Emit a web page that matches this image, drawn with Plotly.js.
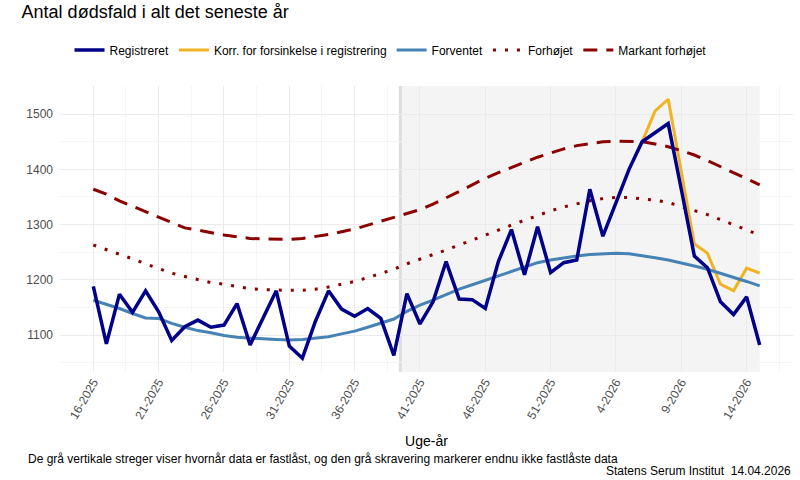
<!DOCTYPE html>
<html>
<head>
<meta charset="utf-8">
<script src="https://cdn.plot.ly/plotly-3.0.1.min.js"></script>
<style>
  body { margin: 0; background: #fff; }
  #chart { width: 800px; height: 480px; }
</style>
</head>
<body>
<div id="chart"></div>
<script>
// uge-år, én pr. observation
const weeks = [
	"16-2025", "17-2025", "18-2025", "19-2025", "20-2025", "21-2025", "22-2025", "23-2025", "24-2025", "25-2025",
	"26-2025", "27-2025", "28-2025", "29-2025", "30-2025", "31-2025", "32-2025", "33-2025", "34-2025", "35-2025",
	"36-2025", "37-2025", "38-2025", "39-2025", "40-2025", "41-2025", "42-2025", "43-2025", "44-2025", "45-2025",
	"46-2025", "47-2025", "48-2025", "49-2025", "50-2025", "51-2025", "52-2025", "1-2026", "2-2026", "3-2026",
	"4-2026", "5-2026", "6-2026", "7-2026", "8-2026", "9-2026", "10-2026", "11-2026", "12-2026", "13-2026",
	"14-2026", "15-2026"
];

const registreret = [
	1188, 1084, 1174, 1141, 1180, 1142, 1090, 1115, 1127, 1114,
	1118, 1157, 1082, 1132, 1180, 1080, 1058, 1125, 1180, 1147,
	1134, 1148, 1130, 1063, 1175, 1120, 1160, 1233, 1165, 1164,
	1148, 1233, 1291, 1209, 1296, 1213, 1231, 1236, 1364, 1279,
	1340, 1400, 1450, 1466, 1483, 1364, 1243, 1222, 1160, 1137,
	1169, 1082
];

// korrigeret for forsinkelse - kun de sidste uger
const korrigeret = [
	null, null, null, null, null, null, null, null, null, null,
	null, null, null, null, null, null, null, null, null, null,
	null, null, null, null, null, null, null, null, null, null,
	null, null, null, null, null, null, null, null, null, null,
	null, null, 1450, 1506, 1527, 1395, 1265, 1248, 1192, 1180,
	1221, 1212
];

const forventet = [
	1163, 1156, 1148, 1139, 1131, 1130, 1121, 1114, 1108, 1104,
	1099, 1096, 1094, 1093, 1092, 1091, 1092, 1094, 1097, 1102,
	1107, 1114, 1121, 1129, 1143, 1154, 1163, 1173, 1183, 1191,
	1199, 1208, 1216, 1224, 1231, 1236, 1240, 1243, 1246, 1247,
	1248, 1247, 1244, 1240, 1236, 1231, 1225, 1219, 1212, 1204,
	1197, 1189
];

const forhoejet = [
	1263, 1255, 1246, 1238, 1229, 1221, 1212, 1206, 1200, 1195,
	1192, 1188, 1184, 1182, 1181, 1181, 1181, 1183, 1187, 1192,
	1197, 1204, 1212, 1219, 1229, 1237, 1246, 1254, 1263, 1272,
	1281, 1291, 1300, 1308, 1316, 1325, 1332, 1338, 1343, 1347,
	1349, 1349, 1347, 1344, 1340, 1333, 1326, 1318, 1309, 1300,
	1291, 1281
];

const markant = [
	1364, 1355, 1343, 1333, 1323, 1313, 1303, 1294, 1290, 1285,
	1281, 1278, 1275, 1274, 1273, 1273, 1275, 1278, 1282, 1287,
	1292, 1299, 1306, 1313, 1320, 1327, 1337, 1348, 1360, 1372,
	1384, 1394, 1404, 1413, 1422, 1430, 1437, 1443, 1447, 1450,
	1451, 1451, 1450, 1446, 1441, 1434, 1426, 1416, 1405, 1395,
	1384, 1372
];

const yTicks = [1100, 1200, 1300, 1400, 1500];
const firstOpenWeek = "40-2025";   // data før denne uge er fastlåst

const idx = weeks.map((w, i) => i);
const tickIdx = idx.filter(i => i % 5 === 0);
const openIdx = weeks.indexOf(firstOpenWeek) - 0.5;
const lastIdx = weeks.length - 1;

const font = "Liberation Sans, Arial, sans-serif";

const traces = [
	{ name: "Registreret", x: idx, y: registreret, mode: "lines",
	  line: { color: "#00008B", width: 3.5 } },
	{ name: "Korr. for forsinkelse i registrering", x: idx, y: korrigeret, mode: "lines",
	  line: { color: "#F0B323", width: 3 } },
	{ name: "Forventet", x: idx, y: forventet, mode: "lines",
	  line: { color: "#4682B4", width: 3 } },
	{ name: "Forhøjet", x: idx, y: forhoejet, mode: "lines",
	  line: { color: "#8B0000", width: 3, dash: "3px,9px" } },
	{ name: "Markant forhøjet", x: idx, y: markant, mode: "lines",
	  line: { color: "#8B0000", width: 3, dash: "14px,9px" } }
];

// registreret tegnes oven på den korrigerede kurve
const order = [traces[1], traces[2], traces[3], traces[4], traces[0]];
order.forEach((t, i) => { t.legendrank = [2, 3, 4, 5, 1][i]; });

const layout = {
	width: 800,
	height: 480,
	margin: { l: 60, r: 7, t: 86, b: 108 },
	paper_bgcolor: "#ffffff",
	plot_bgcolor: "#ffffff",
	font: { family: font, size: 12, color: "#000" },
	title: {
		text: "Antal dødsfald i alt det seneste år",
		font: { family: font, size: 18, color: "#000" },
		xref: "container", yref: "container",
		x: 0.027, xanchor: "left", y: 0.975, yanchor: "middle"
	},
	showlegend: true,
	legend: {
		orientation: "h",
		x: 0.013, xanchor: "left",
		y: 1.126, yanchor: "middle",
		font: { family: font, size: 12, color: "#000" },
		bgcolor: "rgba(0,0,0,0)",
		traceorder: "normal"
	},
	xaxis: {
		range: [-2.55, lastIdx + 2.55],
		tickmode: "array",
		tickvals: tickIdx,
		ticktext: tickIdx.map(i => weeks[i]),
		tickangle: -60,
		tickfont: { family: font, size: 12, color: "#4d4d4d" },
		showgrid: true,
		gridcolor: "#ebebeb",
		gridwidth: 1,
		minor: { tickmode: "linear", tick0: -2.5, dtick: 5, showgrid: true, gridcolor: "#f3f3f3", gridwidth: 0.8 },
		zeroline: false,
		showline: false,
		ticks: "",
		title: { text: "Uge-år", font: { family: font, size: 14, color: "#000" }, standoff: 15 },
		automargin: false
	},
	yaxis: {
		range: [1033, 1551],
		tickmode: "array",
		tickvals: yTicks,
		tickfont: { family: font, size: 12, color: "#4d4d4d" },
		showgrid: true,
		gridcolor: "#ebebeb",
		gridwidth: 1,
		minor: { tickmode: "linear", tick0: 1050, dtick: 100, showgrid: true, gridcolor: "#f3f3f3", gridwidth: 0.8 },
		zeroline: false,
		showline: false,
		ticks: "",
		ticklabelstandoff: 6,
		automargin: false
	},
	shapes: [
		{ type: "rect", layer: "below", xref: "x", yref: "paper",
		  x0: openIdx, x1: lastIdx, y0: 0, y1: 1,
		  fillcolor: "#f4f4f4", line: { width: 0 } },
		{ type: "line", layer: "below", xref: "x", yref: "paper",
		  x0: openIdx, x1: openIdx, y0: 0, y1: 1,
		  line: { color: "#dedede", width: 3 } }
	],
	annotations: [
		{ text: "De grå vertikale streger viser hvornår data er fastlåst, og den grå skravering markerer endnu ikke fastlåste data",
		  xref: "paper", yref: "paper", x: -0.0464, y: -0.304, xanchor: "left", yanchor: "middle",
		  showarrow: false, font: { family: font, size: 12, color: "#000" } },
		{ text: "Statens Serum Institut\u00a0\u00a014.04.2026",
		  xref: "paper", yref: "paper", x: 1, y: -0.346, xanchor: "right", yanchor: "middle",
		  showarrow: false, font: { family: font, size: 12, color: "#000" } }
	]
};

Plotly.newPlot("chart", order, layout, { displayModeBar: false, staticPlot: true });
</script>
</body>
</html>
